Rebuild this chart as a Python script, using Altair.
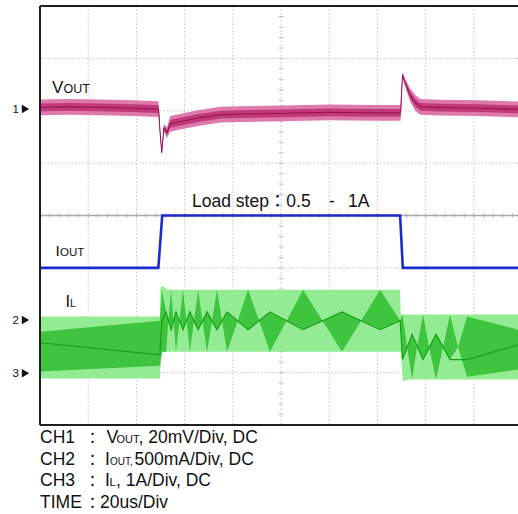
import altair as alt
import pandas as pd

# ---------------- scope set-up ----------------
T_SPAN = 198.3                      # visible time span in us (20 us/div)
N_DIV_Y = 8                         # vertical divisions
CH1_REF, CH1_MV_DIV = 6.0, 20.0     # VOUT   : 20 mV/div
CH2_REF, CH2_A_DIV = 2.0, 0.5       # IOUT   : 500 mA/div
CH3_REF, CH3_A_DIV = 1.0, 1.0       # IL     : 1 A/div

# ---------------- CH1 : VOUT (mV about the CH1 marker) ----------------
vout_t  = [0, 12, 25, 38, 49.2, 49.8, 50.5, 51.4, 52.7, 54.0, 58.0, 66.0, 75.0,
           83.0, 100.0, 120.0, 140.0, 149.6, 150.4, 151.5, 153.5, 155.6, 157.7,
           166.0, 182.0, 198.3]
vout_mv = [1.3, 1.5, 1.3, 1.0, 0.6, -8.0, -16.0, -6.5, -8.4, -5.0, -4.2, -2.7, -1.5,
           -1.3, -1.0, -0.6, -0.8, -0.8, 13.7, 10.7, 6.1, 3.1, 1.5,
           1.2, 1.0, 0.5]
vout_ns = [3.0, 3.0, 3.0, 3.0, 3.0, 1.0, 0.6, 1.5, 2.0, 3.0, 3.0, 3.0, 3.0,
           3.0, 3.0, 3.0, 3.0, 3.0, 1.0, 1.5, 2.5, 3.0, 3.0,
           3.0, 3.0, 3.0]

# ---------------- CH2 : IOUT (A) ----------------
iout_t = [0, 49.1, 50.7, 149.4, 150.5, 198.3]
iout_a = [0.5, 0.5, 1.0, 1.0, 0.5, 0.5]

# ---------------- CH3 : IL (A) ----------------
# full ripple envelope
il_env_t  = [0, 49.8, 49.9, 50.6, 53.0, 149.4, 149.6, 150.6, 153.0, 198.3]
il_env_hi = [1.07, 1.07, 1.60, 1.66, 1.58, 1.58, 1.11, 1.11, 1.11, 1.11]
il_env_lo = [-0.11, -0.11, 0.05, 0.40, 0.40, 0.40, 0.40, -0.17, -0.13, -0.13]

# dense (aliased) part of the ripple: upper / lower edge and the beat trace
il_den_t  = [0, 49.7,
             50.6, 52.3, 53.3, 54.4, 55.4, 56.4, 57.9, 59.3, 60.8, 62.2, 63.9,
             65.6, 67.4, 69.3, 71.4, 73.4, 75.5, 77.6, 82.0, 86.3, 90.9, 95.4,
             102.3, 109.1, 117.2, 125.3, 133.2, 141.1, 149.4,
             150.4, 152.3, 154.4, 156.4, 158.9, 161.4, 164.3, 167.2, 170.1,
             173.4, 177.2, 198.3]
il_den_hi = [0.78, 0.99,
             1.58, 1.16, 0.99, 1.58, 0.99, 1.16, 0.99, 1.58, 0.99, 1.16, 0.99,
             1.58, 0.99, 1.16, 0.99, 1.58, 0.99, 1.16, 0.99, 1.58, 0.99, 1.16,
             0.99, 1.58, 0.99, 1.16, 0.99, 1.58, 0.99,
             1.11, 0.49, 0.73, 0.49, 1.11, 0.49, 0.73, 0.49, 1.11,
             0.49, 1.07, 0.82]
il_den_lo = [0.02, 0.13,
             0.40, 0.40, 0.99, 0.82, 0.99, 0.40, 0.99, 0.82, 0.99, 0.40, 0.99,
             0.82, 0.99, 0.40, 0.99, 0.82, 0.99, 0.40, 0.99, 0.82, 0.99, 0.40,
             0.99, 0.82, 0.99, 0.40, 0.99, 0.82, 0.99,
             0.25, 0.49, -0.13, 0.49, 0.25, 0.49, -0.13, 0.49, 0.25,
             0.49, -0.08, 0.06]
il_beat_t = [0, 49.7,
             50.6, 52.3, 54.4, 56.4, 59.3, 62.2, 65.6, 69.3, 73.4, 77.6, 86.3,
             95.4, 109.1, 125.3, 141.1, 149.4,
             150.4, 154.4, 158.9, 164.3, 170.1, 177.2, 198.3]
il_beat_a = [0.57, 0.34,
             0.99, 1.16, 0.82, 1.16, 0.82, 1.16, 0.82, 1.16, 0.82, 1.16, 0.82,
             1.16, 0.82, 1.16, 0.82, 0.99,
             0.25, 0.73, 0.25, 0.73, 0.25, 0.25, 0.53]

# ---------------- colours ----------------
C_GRID = "#c4c4c4"
C_CENTER = "#a9a9a9"
C_FRAME = "#1e1e1e"
C_V_LIGHT, C_V_MID, C_V_DARK = "#dd7aab", "#c1397a", "#98104f"
C_I_BLUE = "#1c2ad0"
C_L_LIGHT, C_L_DENSE, C_L_TRACE = "#93ec93", "#3fc43f", "#17a017"
FONT = "Liberation Sans, Noto Sans CJK TC"
FONT_CJK = "Noto Sans CJK TC"

W, H = 478, 419


def ch1(mv):
    return CH1_REF + mv / CH1_MV_DIV


def ch2(a):
    return CH2_REF + a / CH2_A_DIV


def ch3(a):
    return CH3_REF + a / CH3_A_DIV


x_scale = alt.Scale(domain=[0, T_SPAN], nice=False, zero=False)
y_scale = alt.Scale(domain=[0, N_DIV_Y], nice=False, zero=False)
X = alt.X("t:Q", scale=x_scale, axis=None)
Y = alt.Y("d:Q", scale=y_scale, axis=None)

# ---------------- graticule ----------------
grid_v = pd.DataFrame({"t": [20 * k for k in range(1, 10)]})
grid_h = pd.DataFrame({"d": [k for k in range(1, N_DIV_Y) if k != 4]})
vgrid = alt.Chart(grid_v).mark_rule(color=C_GRID, strokeDash=[1.5, 2], strokeWidth=1).encode(x=X)
hgrid = alt.Chart(grid_h).mark_rule(color=C_GRID, strokeDash=[1.5, 2], strokeWidth=1).encode(y=Y)
center_h = alt.Chart(pd.DataFrame({"d": [4]})).mark_rule(color=C_CENTER, strokeWidth=1.3).encode(y=Y)

ticks_h = pd.DataFrame({"t": [4 * k for k in range(1, 50)], "d": 4})
ticks_v = pd.DataFrame({"t": 100, "d": [0.2 * k for k in range(1, 40)]})
tick_h = alt.Chart(ticks_h).mark_tick(orient="vertical", size=5, thickness=1, color=C_CENTER).encode(x=X, y=Y)
tick_v = alt.Chart(ticks_v).mark_tick(orient="horizontal", size=5, thickness=1, color=C_CENTER).encode(x=X, y=Y)

one = pd.DataFrame({"k": [0]})
frame_l = alt.Chart(one).mark_rule(color=C_FRAME, strokeWidth=2).encode(
    x=alt.value(0), y=alt.value(0), y2=alt.value(H))
frame_t = alt.Chart(one).mark_rule(color=C_FRAME, strokeWidth=2).encode(
    x=alt.value(0), x2=alt.value(W), y=alt.value(0))
frame_b = alt.Chart(one).mark_rule(color=C_FRAME, strokeWidth=2).encode(
    x=alt.value(0), x2=alt.value(W), y=alt.value(H))

# ---------------- traces ----------------
il_env = pd.DataFrame({"t": il_env_t,
                       "d": [ch3(v) for v in il_env_hi],
                       "d2": [ch3(v) for v in il_env_lo]})
il_den = pd.DataFrame({"t": il_den_t,
                       "d": [ch3(v) for v in il_den_hi],
                       "d2": [ch3(v) for v in il_den_lo]})
il_beat = pd.DataFrame({"t": il_beat_t, "d": [ch3(v) for v in il_beat_a]})

il_env_l = alt.Chart(il_env).mark_area(color=C_L_LIGHT, clip=True).encode(x=X, y=Y, y2="d2:Q")
il_den_l = alt.Chart(il_den).mark_area(color=C_L_DENSE, clip=True).encode(x=X, y=Y, y2="d2:Q")
il_beat_l = alt.Chart(il_beat).mark_line(color=C_L_TRACE, strokeWidth=1.2, clip=True).encode(x=X, y=Y)

iout = pd.DataFrame({"t": iout_t, "d": [ch2(v) for v in iout_a]})
iout_l = alt.Chart(iout).mark_line(color=C_I_BLUE, strokeWidth=2.6, clip=True).encode(x=X, y=Y)

vout = pd.DataFrame({
    "t": vout_t,
    "d": [ch1(m) for m in vout_mv],
    "hi": [ch1(m + n) for m, n in zip(vout_mv, vout_ns)],
    "lo": [ch1(m - n) for m, n in zip(vout_mv, vout_ns)],
    "hi2": [ch1(m + 0.5 * n) for m, n in zip(vout_mv, vout_ns)],
    "lo2": [ch1(m - 0.5 * n) for m, n in zip(vout_mv, vout_ns)],
})
v_light = alt.Chart(vout).mark_area(color=C_V_LIGHT, clip=True).encode(
    x=X, y=alt.Y("hi:Q", scale=y_scale, axis=None), y2="lo:Q")
v_mid = alt.Chart(vout).mark_area(color=C_V_MID, clip=True).encode(
    x=X, y=alt.Y("hi2:Q", scale=y_scale, axis=None), y2="lo2:Q")
v_line = alt.Chart(vout).mark_line(color=C_V_DARK, strokeWidth=1, clip=True).encode(x=X, y=Y)

# ---------------- channel markers ----------------
marks = pd.DataFrame({"lab": ["1", "2", "3"], "px": [-27.5, -27.5, -27.5],
                      "py": [107, 317.5, 371], "tx": [-14.5, -14.5, -14.5],
                      "ty": [103, 314, 367.3]})
mark_num = alt.Chart(marks).mark_text(font=FONT, fontSize=11.5, align="left", baseline="alphabetic",
                                      color="#111").encode(
    x=alt.X("px:Q", scale=None), y=alt.Y("py:Q", scale=None), text="lab:N")
mark_tri = alt.Chart(marks).mark_point(shape="triangle-right", filled=True, size=72, color="#111",
                                       opacity=1).encode(
    x=alt.X("tx:Q", scale=None), y=alt.Y("ty:Q", scale=None))

# ---------------- text (positions in plot pixels) ----------------
lab_txt  = ["V", "OUT", "I", "OUT", "I", "L",
            "Load step：0.5", "-", "1A",
            "CH1", "V", "OUT", ", 20mV/Div, DC",
            "CH2", "I", "OUT,", "500mA/Div, DC",
            "CH3", "I", "L", ", 1A/Div, DC",
            "TIME", "20us/Div"]
lab_x    = [12, 23.5, 15.5, 20, 25.5, 30,
            152, 289, 308,
            0, 66.5, 76.5, 98.5,
            0, 65, 70, 94.5,
            0, 65, 69.5, 76,
            0, 60]
lab_y    = [87, 87, 250, 250, 301, 301,
            201, 201, 201,
            437, 437, 437, 437,
            458.5, 458.5, 458.5, 458.5,
            480, 480, 480, 480,
            501.5, 501.5]
lab_size = [17, 12.5, 15.5, 11.5, 16.5, 10.5,
            17.5, 17.5, 17.5,
            17.5, 17.5, 11, 17.5,
            17.5, 17.5, 10, 17.5,
            17.5, 17.5, 11.5, 17.5,
            17.5, 17.5]
labels = pd.DataFrame({"txt": lab_txt, "px": lab_x, "py": lab_y, "sz": lab_size})
text_l = alt.Chart(labels).mark_text(font=FONT, align="left", baseline="alphabetic",
                                     color="#111").encode(
    x=alt.X("px:Q", scale=None), y=alt.Y("py:Q", scale=None),
    size=alt.Size("sz:Q", scale=None, legend=None), text="txt:N")

# full-width separators of the caption lines
colons = pd.DataFrame({"txt": ["："] * 4, "px": [52.5] * 4,
                       "py": [437, 458.5, 480, 501.5]})
colon_l = alt.Chart(colons).mark_text(font=FONT_CJK, fontSize=15, align="center",
                                      baseline="alphabetic", color="#111").encode(
    x=alt.X("px:Q", scale=None), y=alt.Y("py:Q", scale=None), text="txt:N")

chart = alt.layer(
    vgrid, hgrid, center_h, tick_h, tick_v,
    il_env_l, il_den_l, il_beat_l,
    iout_l,
    v_light, v_mid, v_line,
    frame_l, frame_t, frame_b,
    mark_num, mark_tri, text_l, colon_l,
).properties(
    width=W, height=H,
    autosize=alt.AutoSizeParams(type="none"),
    padding={"left": 40, "top": 6, "right": 0, "bottom": 89},
    background="white",
).configure_view(stroke=None)

chart.save("out.html", embed_options={"renderer": "svg", "actions": False})
